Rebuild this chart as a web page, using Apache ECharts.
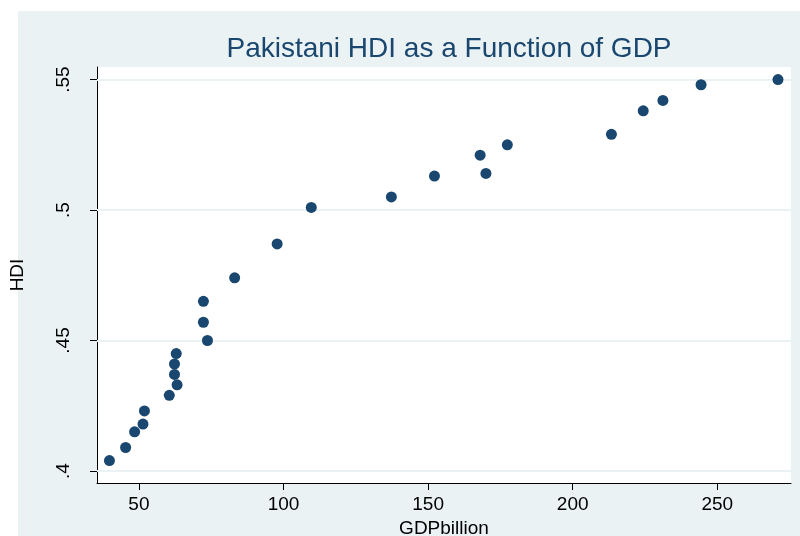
<!DOCTYPE html>
<html>
<head>
<meta charset="utf-8">
<script src="https://cdn.jsdelivr.net/npm/echarts@6/dist/echarts.min.js"></script>
<style>
html,body{margin:0;padding:0;background:#ffffff;}
#chart{width:800px;height:536px;}
</style>
</head>
<body>
<div id="chart"></div>
<script>
// Data
const gdpBillion = [39.8, 45.4, 48.5, 51.4, 51.9, 60.5, 63.2, 62.3, 62.3, 62.9, 73.7, 72.3, 72.3, 83.1, 97.8, 109.6, 137.3, 152.2, 168.0, 170.0, 177.4, 213.4, 224.4, 231.2, 244.4, 271.0];
const hdi = [0.404, 0.409, 0.415, 0.418, 0.423, 0.429, 0.433, 0.437, 0.441, 0.445, 0.450, 0.457, 0.465, 0.474, 0.487, 0.501, 0.505, 0.513, 0.521, 0.514, 0.525, 0.529, 0.538, 0.542, 0.548, 0.550];
const xTicks = [50, 100, 150, 200, 250];
const yTicks = [0.4, 0.45, 0.5, 0.55];
const titleText = 'Pakistani HDI as a Function of GDP';
const xName = 'GDPbillion';
const yName = 'HDI';

const points = gdpBillion.map((g, i) => [g, hdi[i]]);
const FONT = '"Liberation Sans", Arial, sans-serif';
const chart = echarts.init(document.getElementById('chart'), null, {renderer: 'canvas'});
chart.setOption({
  animation: false,
  backgroundColor: '#ffffff',
  graphic: [{
    type: 'rect', z: -10, silent: true,
    shape: {x: 18, y: 11, width: 782, height: 525},
    style: {fill: '#eaf2f3'}
  }],
  title: {
    text: titleText, left: 444, textAlign: 'center', top: 30,
    textStyle: {fontFamily: FONT, fontSize: 28, fontWeight: 'normal', color: '#1a476f'}
  },
  grid: {left: 97, right: 9, top: 67, bottom: 53, show: true, backgroundColor: '#ffffff', borderWidth: 0, containLabel: false, outerBoundsMode: 'none'},
  xAxis: {
    type: 'value', min: 35.5, max: 275.5,
    name: xName, nameLocation: 'middle', nameGap: 33,
    nameTextStyle: {fontFamily: FONT, fontSize: 19, color: '#000'},
    axisLine: {show: true, onZero: false, lineStyle: {color: '#000', width: 1}},
    axisTick: {show: true, length: 7, customValues: xTicks, lineStyle: {color: '#000'}},
    axisLabel: {customValues: xTicks, margin: 12, fontFamily: FONT, fontSize: 19, color: '#000'},
    splitLine: {show: false}
  },
  yAxis: {
    type: 'value', min: 0.3954, max: 0.5548,
    name: yName, nameLocation: 'middle', nameGap: 70,
    nameTextStyle: {fontFamily: FONT, fontSize: 19, color: '#000'},
    axisLine: {show: true, onZero: false, lineStyle: {color: '#000', width: 1}},
    axisTick: {show: true, length: 7, customValues: yTicks, lineStyle: {color: '#000'}},
    axisLabel: {
      customValues: yTicks, rotate: 90, margin: 24,
      fontFamily: FONT, fontSize: 19, color: '#000',
      formatter: v => String(+(+v).toFixed(2)).replace(/^0/, '')
    },
    splitLine: {show: false}
  },
  series: [{
    type: 'line', data: [], z: 1, silent: true,
    markLine: {
      silent: true, symbol: 'none', animation: false, z: 1,
      label: {show: false},
      lineStyle: {color: '#eaf2f3', width: 2, type: 'solid'},
      emphasis: {disabled: true},
      data: yTicks.map(v => ({yAxis: v}))
    }
  }, {
    type: 'scatter', z: 6, data: points,
    symbol: 'circle', symbolSize: 11,
    itemStyle: {color: '#1a476f', opacity: 1}
  }]
});
</script>
</body>
</html>
